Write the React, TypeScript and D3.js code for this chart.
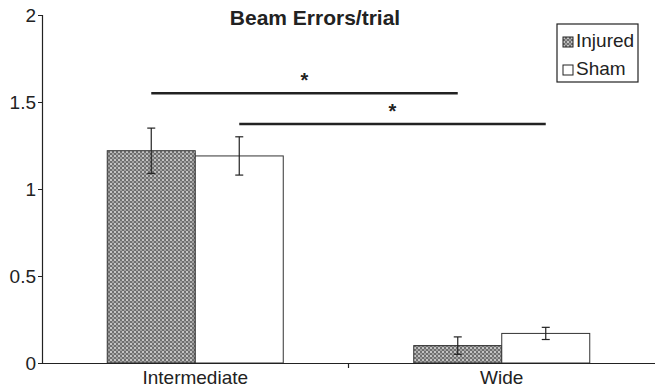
import React, { useEffect, useRef } from "react";
import * as d3 from "d3";

const categories = ["Intermediate", "Wide"];
const groups = ["Injured", "Sham"];
const injuredMeans = [1.22, 0.1];
const injuredErr = [0.13, 0.05];
const shamMeans = [1.19, 0.17];
const shamErr = [0.11, 0.035];
const yTicks = [0, 0.5, 1, 1.5, 2];
// significance bars: from/to = [category index, position within the group pair], y in data units
const sigLines = [
  { from: [0, 0.5], to: [1, 0.5], y: 1.55 },
  { from: [0, 1.5], to: [1, 1.5], y: 1.373 },
];

const W = 655;
const H = 392;
const MARGIN = { top: 15, right: 0, bottom: 29, left: 42 };
const FONT = "'Liberation Sans', Arial, sans-serif";
const INK = "#222";

export default function App() {
  const svgRef = useRef<SVGSVGElement | null>(null);

  useEffect(() => {
    const svg = d3.select(svgRef.current);
    svg.selectAll("*").remove();

    const innerW = W - MARGIN.left - MARGIN.right;
    const innerH = H - MARGIN.top - MARGIN.bottom;

    // checkered fill for the injured bars
    const pat = svg
      .append("defs")
      .append("pattern")
      .attr("id", "chk")
      .attr("patternUnits", "userSpaceOnUse")
      .attr("width", 4)
      .attr("height", 4);
    pat.append("rect").attr("width", 4).attr("height", 4).attr("fill", "#6f6f6f");
    pat.append("rect").attr("width", 2).attr("height", 2).attr("fill", "#c4c4c4");
    pat.append("rect").attr("x", 2).attr("y", 2).attr("width", 2).attr("height", 2).attr("fill", "#a0a0a0");

    const g = svg
      .append("g")
      .attr("transform", `translate(${MARGIN.left},${MARGIN.top})`);

    const x = d3.scaleBand().domain(categories).range([0, innerW]);
    const bw = 88;
    const x1 = d3
      .scaleBand()
      .domain(groups)
      .range([x.bandwidth() / 2 - bw, x.bandwidth() / 2 + bw]);
    const y = d3.scaleLinear().domain([0, 2]).range([innerH, 0]);

    const data = categories.flatMap((c, i) => [
      { cat: c, grp: "Injured", v: injuredMeans[i], e: injuredErr[i] },
      { cat: c, grp: "Sham", v: shamMeans[i], e: shamErr[i] },
    ]);

    g.selectAll(".bar")
      .data(data)
      .join("rect")
      .attr("x", (d) => (x(d.cat) as number) + (x1(d.grp) as number))
      .attr("y", (d) => y(d.v))
      .attr("width", x1.bandwidth())
      .attr("height", (d) => y(0) - y(d.v))
      .attr("fill", (d) => (d.grp === "Injured" ? "url(#chk)" : "#fff"))
      .attr("stroke", "#333")
      .attr("stroke-width", 1);

    // error bars
    const cx = (d: any) => (x(d.cat) as number) + (x1(d.grp) as number) + x1.bandwidth() / 2;
    const eg = g.selectAll(".err").data(data).join("g");
    eg.append("line")
      .attr("x1", cx)
      .attr("x2", cx)
      .attr("y1", (d) => y(d.v + d.e))
      .attr("y2", (d) => y(d.v - d.e))
      .attr("stroke", INK)
      .attr("stroke-width", 1.2);
    [1, -1].forEach((s) => {
      eg.append("line")
        .attr("x1", (d) => cx(d) - 4)
        .attr("x2", (d) => cx(d) + 4)
        .attr("y1", (d) => y(d.v + s * d.e))
        .attr("y2", (d) => y(d.v + s * d.e))
        .attr("stroke", INK)
        .attr("stroke-width", 1.2);
    });

    // y axis
    const yAxis = g
      .append("g")
      .call(d3.axisLeft(y).tickValues(yTicks).tickSize(4).tickFormat((v) => String(v)));
    yAxis.select(".domain").attr("stroke", INK).attr("stroke-width", 1.2);
    yAxis.selectAll("line").attr("stroke", INK);
    yAxis
      .selectAll("text")
      .attr("font-family", FONT)
      .attr("font-size", 19)
      .attr("fill", INK)
      .attr("x", -6);

    // x axis
    const xAxis = g
      .append("g")
      .attr("transform", `translate(0,${innerH})`)
      .call(d3.axisBottom(x).tickSize(0).tickSizeOuter(0));
    xAxis.select(".domain").attr("stroke", INK).attr("stroke-width", 1.2);
    xAxis
      .selectAll("text")
      .attr("font-family", FONT)
      .attr("font-size", 19)
      .attr("fill", INK)
      .attr("dy", "0.95em")
      .attr("y", 3);
    g.append("line")
      .attr("x1", x("Wide") as number)
      .attr("x2", x("Wide") as number)
      .attr("y1", innerH)
      .attr("y2", innerH + 5)
      .attr("stroke", INK)
      .attr("stroke-width", 1.2);

    // significance lines
    const px = (p: number[]) =>
      (x(categories[p[0]]) as number) + (x1(groups[0]) as number) + p[1] * x1.bandwidth();
    sigLines.forEach((s) => {
      const a = px(s.from);
      const b = px(s.to);
      g.append("line")
        .attr("x1", a)
        .attr("x2", b)
        .attr("y1", y(s.y))
        .attr("y2", y(s.y))
        .attr("stroke", INK)
        .attr("stroke-width", 2.5);
      g.append("text")
        .attr("x", (a + b) / 2)
        .attr("y", y(s.y) - 6)
        .attr("text-anchor", "middle")
        .attr("font-family", FONT)
        .attr("font-size", 20)
        .attr("font-weight", "bold")
        .attr("fill", INK)
        .text("*");
    });

    // title
    svg
      .append("text")
      .attr("x", 315)
      .attr("y", 25)
      .attr("text-anchor", "middle")
      .attr("font-family", FONT)
      .attr("font-size", 21)
      .attr("font-weight", "bold")
      .attr("fill", INK)
      .text("Beam Errors/trial");

    // legend
    const lg = svg.append("g").attr("transform", "translate(557,24)");
    lg.append("rect")
      .attr("width", 81)
      .attr("height", 58)
      .attr("fill", "#fff")
      .attr("stroke", INK)
      .attr("stroke-width", 1.2);
    groups.forEach((grp, i) => {
      const row = lg.append("g").attr("transform", `translate(6,${13 + i * 28})`);
      row
        .append("rect")
        .attr("width", 10)
        .attr("height", 10)
        .attr("fill", grp === "Injured" ? "url(#chk)" : "#fff")
        .attr("stroke", INK);
      row
        .append("text")
        .attr("x", 13)
        .attr("y", 10)
        .attr("font-family", FONT)
        .attr("font-size", 19)
        .attr("fill", INK)
        .text(grp);
    });
  }, []);

  return <svg ref={svgRef} width={W} height={H} style={{ position: "absolute", left: 0, top: 0 }} />;
}
